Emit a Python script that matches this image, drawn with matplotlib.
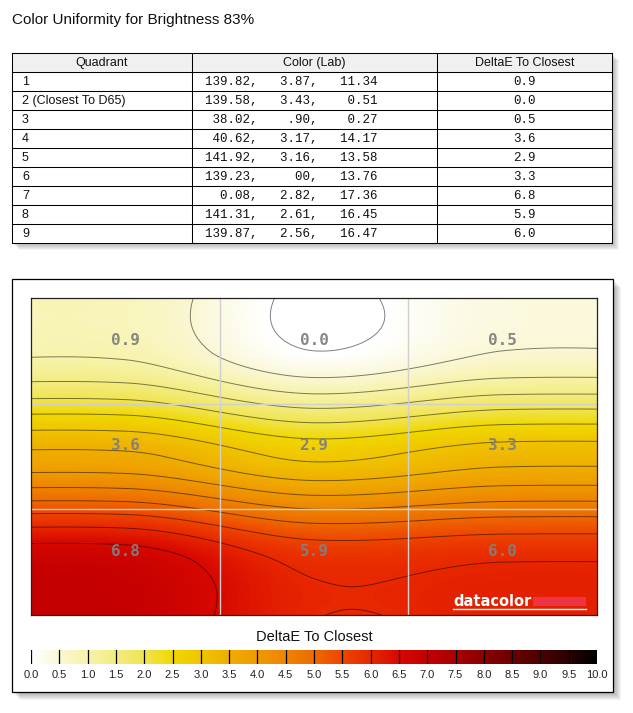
import matplotlib
matplotlib.use("Agg")
import matplotlib.pyplot as plt
import numpy as np
from matplotlib.colors import LinearSegmentedColormap
from matplotlib.patches import Rectangle

# table data
quadrants = ["1", "2 (Closest To D65)", "3", "4", "5", "6", "7", "8", "9"]
lab_L = ["139.82", "139.58", "38.02", "40.62", "141.92", "139.23", "0.08", "141.31", "139.87"]
lab_a = ["3.87", "3.43", ".90", "3.17", "3.16", "00", "2.82", "2.61", "2.56"]
lab_b = ["11.34", "0.51", "0.27", "14.17", "13.58", "13.76", "17.36", "16.45", "16.47"]
delta_e = [0.9, 0.0, 0.5, 3.6, 2.9, 3.3, 6.8, 5.9, 6.0]
header = ["Quadrant", "Color (Lab)", "DeltaE To Closest"]
cbar_ticks = [0.0, 0.5, 1.0, 1.5, 2.0, 2.5, 3.0, 3.5, 4.0, 4.5, 5.0,
              5.5, 6.0, 6.5, 7.0, 7.5, 8.0, 8.5, 9.0, 9.5, 10.0]

W, H = 633, 713
SANS = ["Liberation Sans", "DejaVu Sans"]
NARROW = ["Liberation Sans Narrow", "Liberation Sans", "DejaVu Sans"]
MONO = ["Liberation Mono", "DejaVu Sans Mono"]

cmap = LinearSegmentedColormap.from_list("de", [
    (0.00, "#FFFFFF"), (0.05, "#FAF7D2"), (0.10, "#F7F3A8"), (0.15, "#F3EC80"),
    (0.20, "#F1E450"), (0.25, "#F0D800"), (0.30, "#F0C400"), (0.35, "#EFAE00"),
    (0.40, "#EF9A00"), (0.45, "#EE8400"), (0.50, "#EE6A00"), (0.55, "#EE4600"),
    (0.60, "#E82800"), (0.65, "#D80800"), (0.70, "#C40000"), (0.75, "#A80000"),
    (0.80, "#8C0000"), (0.85, "#6C0000"), (0.90, "#4C0000"), (0.95, "#2C0000"),
    (1.00, "#000000")])


def smooth_axis(vals, u, tension=0.4):
    # cardinal spline through cell centres, edge values held flat beyond the grid
    vals = np.asarray(vals, dtype=float)
    n = vals.shape[-1]
    pad = np.concatenate([vals[..., :1], vals[..., :1], vals, vals[..., -1:], vals[..., -1:]], axis=-1)
    s = u * n - 0.5
    i = np.floor(s).astype(int)
    t = s - i
    k = i + 2
    p0, p1, p2, p3 = (np.take(pad, k + d, axis=-1) for d in (-1, 0, 1, 2))
    m1 = (1 - tension) * (p2 - p0) / 2
    m2 = (1 - tension) * (p3 - p1) / 2
    h00 = 2 * t ** 3 - 3 * t ** 2 + 1
    h10 = t ** 3 - 2 * t ** 2 + t
    h01 = -2 * t ** 3 + 3 * t ** 2
    h11 = t ** 3 - t ** 2
    return h00 * p1 + h10 * m1 + h01 * p2 + h11 * m2


def px_axes(x0, y0, x1, y1):
    return fig.add_axes([x0 / W, 1 - y1 / H, (x1 - x0) / W, (y1 - y0) / H])


def shadow(ax, x0, y0, x1, y1, depth=7):
    for k in range(1, depth + 1):
        ax.add_patch(Rectangle((x0 + k, y0 + k), x1 - x0, y1 - y0,
                               facecolor="#000000", alpha=0.045, lw=0, zorder=0))


fig = plt.figure(figsize=(W / 100, H / 100), dpi=100)
bg = fig.add_axes([0, 0, 1, 1])
bg.set_xlim(0, W)
bg.set_ylim(H, 0)
bg.axis("off")

bg.text(12, 20, "Color Uniformity for Brightness 83%", fontsize=11, family=SANS,
        ha="left", va="center", color="#111111")

# ---- table ----
col_x = [12, 192, 437, 612]
top, row_h = 53, 19
n_rows = len(quadrants) + 1
bottom = top + n_rows * row_h
shadow(bg, col_x[0], top, col_x[-1], bottom)
bg.add_patch(Rectangle((col_x[0], top), col_x[-1] - col_x[0], bottom - top,
                       facecolor="white", lw=0, zorder=1))
bg.add_patch(Rectangle((col_x[0], top), col_x[-1] - col_x[0], row_h,
                       facecolor="#F0F0F0", lw=0, zorder=1))
for r in range(n_rows + 1):
    bg.plot([col_x[0], col_x[-1]], [top + r * row_h] * 2, color="black", lw=0.75, zorder=2)
for x in col_x:
    bg.plot([x, x], [top, bottom], color="black", lw=0.75, zorder=2)

for c, h in enumerate(header):
    bg.text((col_x[c] + col_x[c + 1]) / 2, top + row_h / 2 + 0.5, h, fontsize=9,
            family=SANS, ha="center", va="center", color="#111111", zorder=3)
for r in range(len(quadrants)):
    yc = top + (r + 1.5) * row_h + 0.5
    bg.text(col_x[0] + 10, yc, quadrants[r], fontsize=9, family=SANS,
            ha="left", va="center", color="#111111", zorder=3)
    lab = f"{lab_L[r]:>6},   {lab_a[r]:>4},   {lab_b[r]:>5}"
    bg.text(col_x[1] + 13, yc, lab, fontsize=9, family=MONO,
            ha="left", va="center", color="#111111", zorder=3)
    bg.text((col_x[2] + col_x[3]) / 2, yc, f"{delta_e[r]:.1f}", fontsize=9, family=MONO,
            ha="center", va="center", color="#111111", zorder=3)

# ---- chart frame ----
shadow(bg, 12, 279, 613, 692, depth=8)
bg.add_patch(Rectangle((12, 279), 601, 413, facecolor="white", edgecolor="black",
                       lw=0.9, zorder=1))

# ---- heatmap ----
grid = np.array(delta_e).reshape(3, 3)
u = np.linspace(0, 1, 400)
v = np.linspace(0, 1, 260)
rows_smooth = smooth_axis(grid, u)              # 3 x Nx
Z = smooth_axis(rows_smooth.T, v).T             # Ny x Nx
X, Y = np.meshgrid(u, v)

ax = px_axes(31, 298, 597, 615)
ax.imshow(Z, extent=[0, 1, 1, 0], cmap=cmap, vmin=0, vmax=10,
          interpolation="bilinear", aspect="auto")
ax.contour(X, Y, Z, levels=np.arange(0, 10.01, 0.5), colors="black",
           linewidths=0.7, alpha=0.5)
for f in (1 / 3, 2 / 3):
    ax.axvline(f, color="#CFCFCF", lw=1.0)
    ax.axhline(f, color="#CFCFCF", lw=1.0)
for i in range(3):
    for j in range(3):
        ax.text((j + 0.5) / 3, (i + 0.5) / 3 - 0.034, f"{grid[i, j]:.1f}",
                fontsize=11.5, family=["DejaVu Sans Mono"], weight="bold",
                color="#808080", alpha=0.95, ha="center", va="center")
ax.set_xlim(0, 1)
ax.set_ylim(1, 0)
ax.set_xticks([])
ax.set_yticks([])
for s in ax.spines.values():
    s.set_color("#222222")
    s.set_linewidth(0.9)

# ---- colorbar ----
bg.text(314, 637, "DeltaE To Closest", fontsize=10.5, family=SANS,
        ha="center", va="center", color="#111111")
cax = px_axes(31, 650, 597, 664)
cax.imshow(np.linspace(0, 10, 600)[None, :], extent=[0, 10, 0, 1], cmap=cmap,
           vmin=0, vmax=10, aspect="auto")
for t in cbar_ticks:
    cax.axvline(t, color="black", lw=0.9)
cax.set_xlim(0, 10)
cax.set_ylim(0, 1)
cax.set_yticks([])
cax.set_xticks(cbar_ticks)
cax.set_xticklabels([f"{t:.1f}" for t in cbar_ticks], fontsize=8, family=NARROW,
                    color="#222222")
cax.tick_params(axis="x", length=0, pad=4)
for s in cax.spines.values():
    s.set_visible(False)

# ---- logo ----
top_ax = fig.add_axes([0, 0, 1, 1])
top_ax.set_xlim(0, W)
top_ax.set_ylim(H, 0)
top_ax.axis("off")
top_ax.text(453, 606, "datacolor", fontsize=10.5, family=["DejaVu Sans"], weight="bold",
            color="white", ha="left", va="baseline")
top_ax.add_patch(Rectangle((533, 597), 53, 9, facecolor="#EE3344", lw=0))
top_ax.plot([453, 586], [608.5, 608.5], color="white", lw=1.0)

fig.savefig("out.png", dpi=100)
